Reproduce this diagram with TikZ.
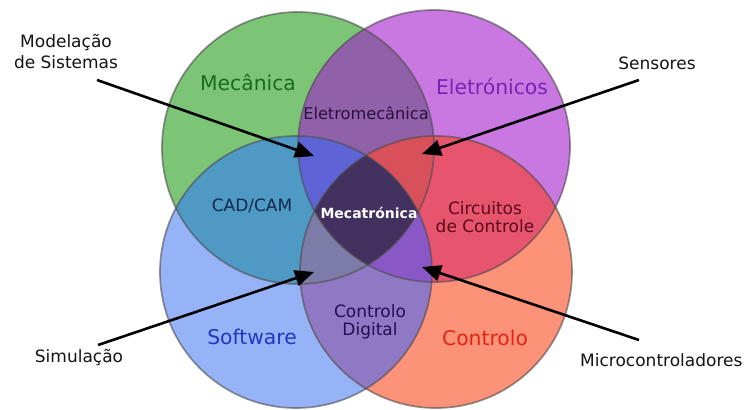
\documentclass[tikz,border=0pt]{standalone}
\usepackage{fontspec}
\setmainfont{DejaVu Sans}
\usetikzlibrary{arrows.meta}

% base colours of the four fields
\definecolor{cMec}{HTML}{7CC576}
\definecolor{cEle}{HTML}{C878E0}
\definecolor{cSof}{HTML}{97B3F7}
\definecolor{cCon}{HTML}{FC9278}
% pairwise overlaps
\definecolor{cMecEle}{HTML}{9060A8}
\definecolor{cMecSof}{HTML}{4E9AC4}
\definecolor{cEleCon}{HTML}{E6546E}
\definecolor{cSofCon}{HTML}{9079C4}
% triple overlaps and the core
\definecolor{cMES}{HTML}{5E64D6}
\definecolor{cMEC}{HTML}{D8505A}
\definecolor{cMSC}{HTML}{7D7BA8}
\definecolor{cESC}{HTML}{8A58C6}
\definecolor{cCore}{HTML}{42305E}
% label colours
\definecolor{tMec}{HTML}{1A6B1A}
\definecolor{tEle}{HTML}{7A22B4}
\definecolor{tSof}{HTML}{2336C0}
\definecolor{tCon}{HTML}{E22418}
\definecolor{tElMec}{HTML}{2A1040}
\definecolor{tCad}{HTML}{102850}
\definecolor{tCirc}{HTML}{5A0A1A}
\definecolor{tDig}{HTML}{1E1050}

\tikzset{
  field/.style={line width=1.7pt, draw=black!70, draw opacity=0.6},
  biglabel/.style={font=\fontsize{20.3}{22}\selectfont, inner sep=0pt},
  smalllabel/.style={font=\fontsize{17}{19}\selectfont, inner sep=0pt, align=center},
  outlabel/.style={font=\fontsize{17}{21}\selectfont, inner sep=0pt, align=center, text=black!92},
  corelabel/.style={font=\bfseries\fontsize{14}{16}\selectfont, inner sep=0pt, text=white},
  pointer/.style={line width=2.6pt, -{Triangle[length=19pt,width=16pt]}, black},
}

\newcommand{\circMec}{(298,148) circle[radius=136pt]}
\newcommand{\circEle}{(434,146) circle[radius=136pt]}
\newcommand{\circSof}{(296,272) circle[radius=136pt]}
\newcommand{\circCon}{(436,272) circle[radius=136pt]}

\begin{document}
\begin{tikzpicture}[x=1pt,y=-1pt]
  \fill[white] (0,0) rectangle (745,410);
  \useasboundingbox (0,0) rectangle (745,410);

  % single fields
  \fill[cMec] \circMec;
  \fill[cEle] \circEle;
  \fill[cSof] \circSof;
  \fill[cCon] \circCon;

  % pairwise overlaps
  \begin{scope}\clip \circMec; \fill[cMecEle] \circEle; \end{scope}
  \begin{scope}\clip \circMec; \fill[cMecSof] \circSof; \end{scope}
  \begin{scope}\clip \circEle; \fill[cEleCon] \circCon; \end{scope}
  \begin{scope}\clip \circSof; \fill[cSofCon] \circCon; \end{scope}

  % triple overlaps
  \begin{scope}\clip \circMec; \clip \circEle; \fill[cMES] \circSof; \end{scope}
  \begin{scope}\clip \circMec; \clip \circEle; \fill[cMEC] \circCon; \end{scope}
  \begin{scope}\clip \circMec; \clip \circSof; \fill[cMSC] \circCon; \end{scope}
  \begin{scope}\clip \circEle; \clip \circSof; \fill[cESC] \circCon; \end{scope}

  % the core where all four meet
  \begin{scope}\clip \circMec; \clip \circEle; \clip \circSof; \fill[cCore] \circCon; \end{scope}

  % outlines
  \draw[field] \circMec;
  \draw[field] \circEle;
  \draw[field] \circSof;
  \draw[field] \circCon;

  % field names
  \node[biglabel, text=tMec] (mec) at (248,83) {Mecânica};
  \node[biglabel, text=tEle] (ele) at (492,87) {Eletrónicos};
  \node[biglabel, text=tSof] (sof) at (252,337) {Software};
  \node[biglabel, text=tCon] (con) at (485,338) {Controlo};

  % overlap names
  \node[smalllabel, font=\fontsize{16.2}{19}\selectfont, text=tElMec] (elmec) at (366,113) {Eletromecânica};
  \node[smalllabel, text=tCad] (cad) at (252,206) {CAD/CAM};
  \node[smalllabel, text=tCirc] (circ) at (485,217) {Circuitos\\[-1pt]de Controle};
  \node[smalllabel, text=tDig] (cdig) at (370,322) {Controlo\\[-1pt]Digital};
  \node[corelabel] (core) at (369,213) {Mecatrónica};

  % outer labels
  \node[outlabel] (model) at (66,52) {Modelação\\de Sistemas};
  \node[outlabel] (sens) at (657,63) {Sensores};
  \node[outlabel] (simu) at (79,358) {Simulação};
  \node[outlabel, anchor=west] (micro) at (580,360) {Microcontroladores};

  % pointer ends
  \coordinate (modelS) at (97,80);
  \coordinate (modelT) at (314,156);
  \coordinate (sensS) at (639,80);
  \coordinate (sensT) at (422,154);
  \coordinate (simuS) at (98,345);
  \coordinate (simuT) at (314,272);
  \coordinate (microS) at (639,340);
  \coordinate (microT) at (422,267);

  \draw[pointer] (modelS) -- (modelT);
  \draw[pointer] (sensS) -- (sensT);
  \draw[pointer] (simuS) -- (simuT);
  \draw[pointer] (microS) -- (microT);
\end{tikzpicture}
\end{document}
